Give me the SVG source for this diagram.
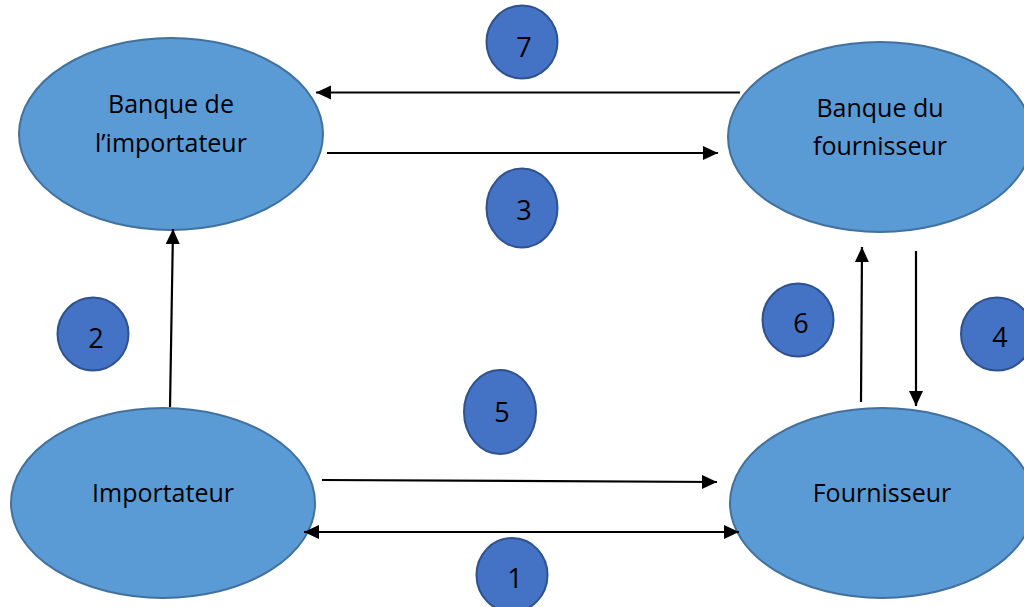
<svg xmlns="http://www.w3.org/2000/svg" width="1024" height="607" viewBox="0 0 1024 607">
<defs>
<style>
.big{fill:#5B9BD5;stroke:#41719C;stroke-width:2}
.num{fill:#4472C4;stroke:#2F528F;stroke-width:2}
.t{font-family:"Open Sans","Liberation Sans",sans-serif;font-size:25px;fill:#000;text-anchor:middle}
.n{font-size:27px}
.c{stroke:#000;stroke-width:2.2;fill:none}
</style>
<marker id="ah" markerUnits="userSpaceOnUse" markerWidth="17" markerHeight="16" refX="15" refY="7" orient="auto-start-reverse">
<path d="M0,0 L15,7 L0,14 Z" fill="#000"/>
</marker>
</defs>
<rect width="1024" height="607" fill="#fff"/>
<g id="bank-importer">
<ellipse class="big" cx="171" cy="134" rx="152" ry="96"/>
<text class="t" x="171" y="113">Banque de</text>
<text class="t" x="171" y="152">l’importateur</text>
</g>
<g id="bank-supplier">
<ellipse class="big" cx="880" cy="137" rx="152" ry="95"/>
<text class="t" x="880" y="117">Banque du</text>
<text class="t" x="880" y="155">fournisseur</text>
</g>
<g id="importer">
<ellipse class="big" cx="163" cy="503" rx="152" ry="95"/>
<text class="t" x="163" y="502">Importateur</text>
</g>
<g id="supplier">
<ellipse class="big" cx="882" cy="503" rx="152" ry="95"/>
<text class="t" x="882" y="502">Fournisseur</text>
</g>
<g id="connectors">
<line class="c" x1="740" y1="92.5" x2="316" y2="92.5" marker-end="url(#ah)"/>
<line class="c" x1="327" y1="153" x2="718" y2="153" marker-end="url(#ah)"/>
<line class="c" x1="170" y1="407" x2="173" y2="229" marker-end="url(#ah)"/>
<line class="c" x1="322" y1="480" x2="717" y2="482" marker-end="url(#ah)"/>
<line class="c" x1="304" y1="532" x2="739" y2="532" marker-start="url(#ah)" marker-end="url(#ah)"/>
<line class="c" x1="861" y1="402" x2="862" y2="247" marker-end="url(#ah)"/>
<line class="c" x1="916" y1="251" x2="916" y2="406" marker-end="url(#ah)"/>
</g>
<g id="n7"><ellipse class="num" cx="522" cy="42" rx="35.5" ry="36.5"/><text class="t n" x="524" y="57">7</text></g>
<g id="n3"><ellipse class="num" cx="522" cy="208" rx="35.5" ry="39.5"/><text class="t n" x="524" y="220">3</text></g>
<g id="n5"><ellipse class="num" cx="500" cy="412" rx="36" ry="42"/><text class="t n" x="502" y="422">5</text></g>
<g id="n1"><ellipse class="num" cx="512" cy="575" rx="35.5" ry="37"/><text class="t n" x="515" y="588">1</text></g>
<g id="n6"><ellipse class="num" cx="798" cy="320" rx="35.5" ry="36.5"/><text class="t n" x="801" y="333">6</text></g>
<g id="n4"><ellipse class="num" cx="997" cy="334" rx="36" ry="36.5"/><text class="t n" x="1000" y="347">4</text></g>
<g id="n2"><ellipse class="num" cx="93" cy="334" rx="35.5" ry="36.5"/><text class="t n" x="96" y="348">2</text></g>
</svg>
